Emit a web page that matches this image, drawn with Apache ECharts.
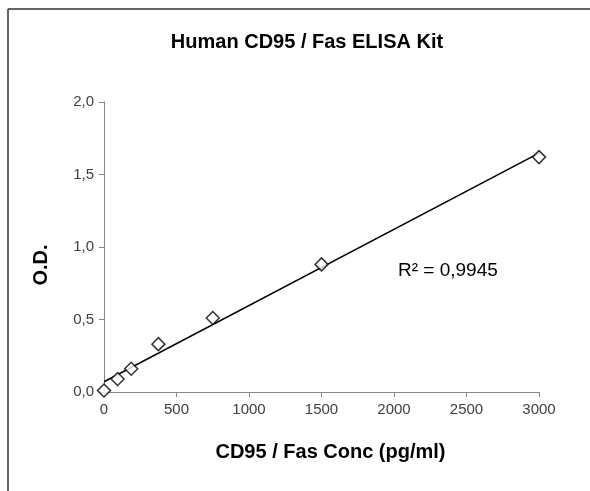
<!DOCTYPE html>
<html><head><meta charset="utf-8">
<script src="https://cdn.jsdelivr.net/npm/echarts@6/dist/echarts.min.js"></script>
<style>html,body{margin:0;padding:0;background:#fff}#c{width:590px;height:491px}</style>
</head><body><div id="c"></div>
<script>
const chartTitle = "Human CD95 / Fas ELISA Kit";
const xName = "CD95 / Fas Conc (pg/ml)";
const yName = "O.D.";
const conc = [0, 93.75, 187.5, 375, 750, 1500, 3000];
const od = [0.01, 0.09, 0.16, 0.33, 0.51, 0.88, 1.62];
const xTicks = [0, 500, 1000, 1500, 2000, 2500, 3000];
const yTicks = [0, 0.5, 1.0, 1.5, 2.0];
const r2Label = "R² = 0,9945";

// least-squares trendline from the data
const n = conc.length;
const mx = conc.reduce((a,b)=>a+b,0)/n, my = od.reduce((a,b)=>a+b,0)/n;
let sxy=0,sxx=0; for(let i=0;i<n;i++){sxy+=(conc[i]-mx)*(od[i]-my);sxx+=(conc[i]-mx)**2;}
const slope = sxy/sxx, icpt = my - slope*mx;
const xEnds = [xTicks[0], xTicks[xTicks.length-1]];
const trend = xEnds.map(x=>[x, icpt+slope*x]);

const font = "Arial, 'Liberation Sans', sans-serif";
const chart = echarts.init(document.getElementById('c'), null, {renderer:'canvas'});
chart.setOption({
  animation:false,
  backgroundColor:'#fff',
  title:{text:chartTitle,left:302,top:27,textAlign:'center',
    textStyle:{fontFamily:font,fontSize:20,fontWeight:'bold',color:'#000'}},
  grid:{left:104,right:51,top:102,bottom:99,containLabel:false},
  xAxis:{type:'value',min:xTicks[0],max:xTicks[xTicks.length-1],interval:500,
    name:xName,nameLocation:'middle',nameGap:50,
    nameTextStyle:{fontFamily:font,fontSize:20,fontWeight:'bold',color:'#000',padding:[0,0,0,18]},
    axisLine:{lineStyle:{color:'#868686',width:1}},
    axisTick:{show:true,length:5,lineStyle:{color:'#868686'}},
    axisLabel:{margin:10,fontFamily:font,fontSize:15,color:'#404040',formatter:v=>String(v)},
    splitLine:{show:false}},
  yAxis:{type:'value',min:yTicks[0],max:yTicks[yTicks.length-1],interval:0.5,
    axisLine:{show:true,lineStyle:{color:'#868686',width:1}},
    axisTick:{show:true,length:5,lineStyle:{color:'#868686'}},
    axisLabel:{margin:10,fontFamily:font,fontSize:15,color:'#404040',
      formatter:v=>v.toFixed(1).replace('.',',')},
    splitLine:{show:false}},
  series:[
    {type:'line',data:trend,symbol:'none',lineStyle:{color:'#000',width:1.5},z:2},
    {type:'scatter',data:conc.map((x,i)=>[x,od[i]]),symbol:'diamond',symbolSize:[13,13],
      itemStyle:{color:'#fff',borderColor:'#000',borderWidth:1.5},z:3}
  ],
  graphic:[
    {type:'text',x:41,y:265,rotation:Math.PI/2,
      style:{text:yName,fontFamily:font,fontSize:20,fontWeight:'bold',fill:'#000',
        align:'center',verticalAlign:'middle'}},
    {type:'text',left:398,top:261,style:{text:r2Label,fontFamily:font,fontSize:19,fill:'#000'}},
    {type:'line',shape:{x1:8,y1:9,x2:590,y2:9},style:{stroke:'#333',lineWidth:1.5}},
    {type:'line',shape:{x1:8,y1:9,x2:8,y2:491},style:{stroke:'#333',lineWidth:1.5}}
  ]
});
</script></body></html>
